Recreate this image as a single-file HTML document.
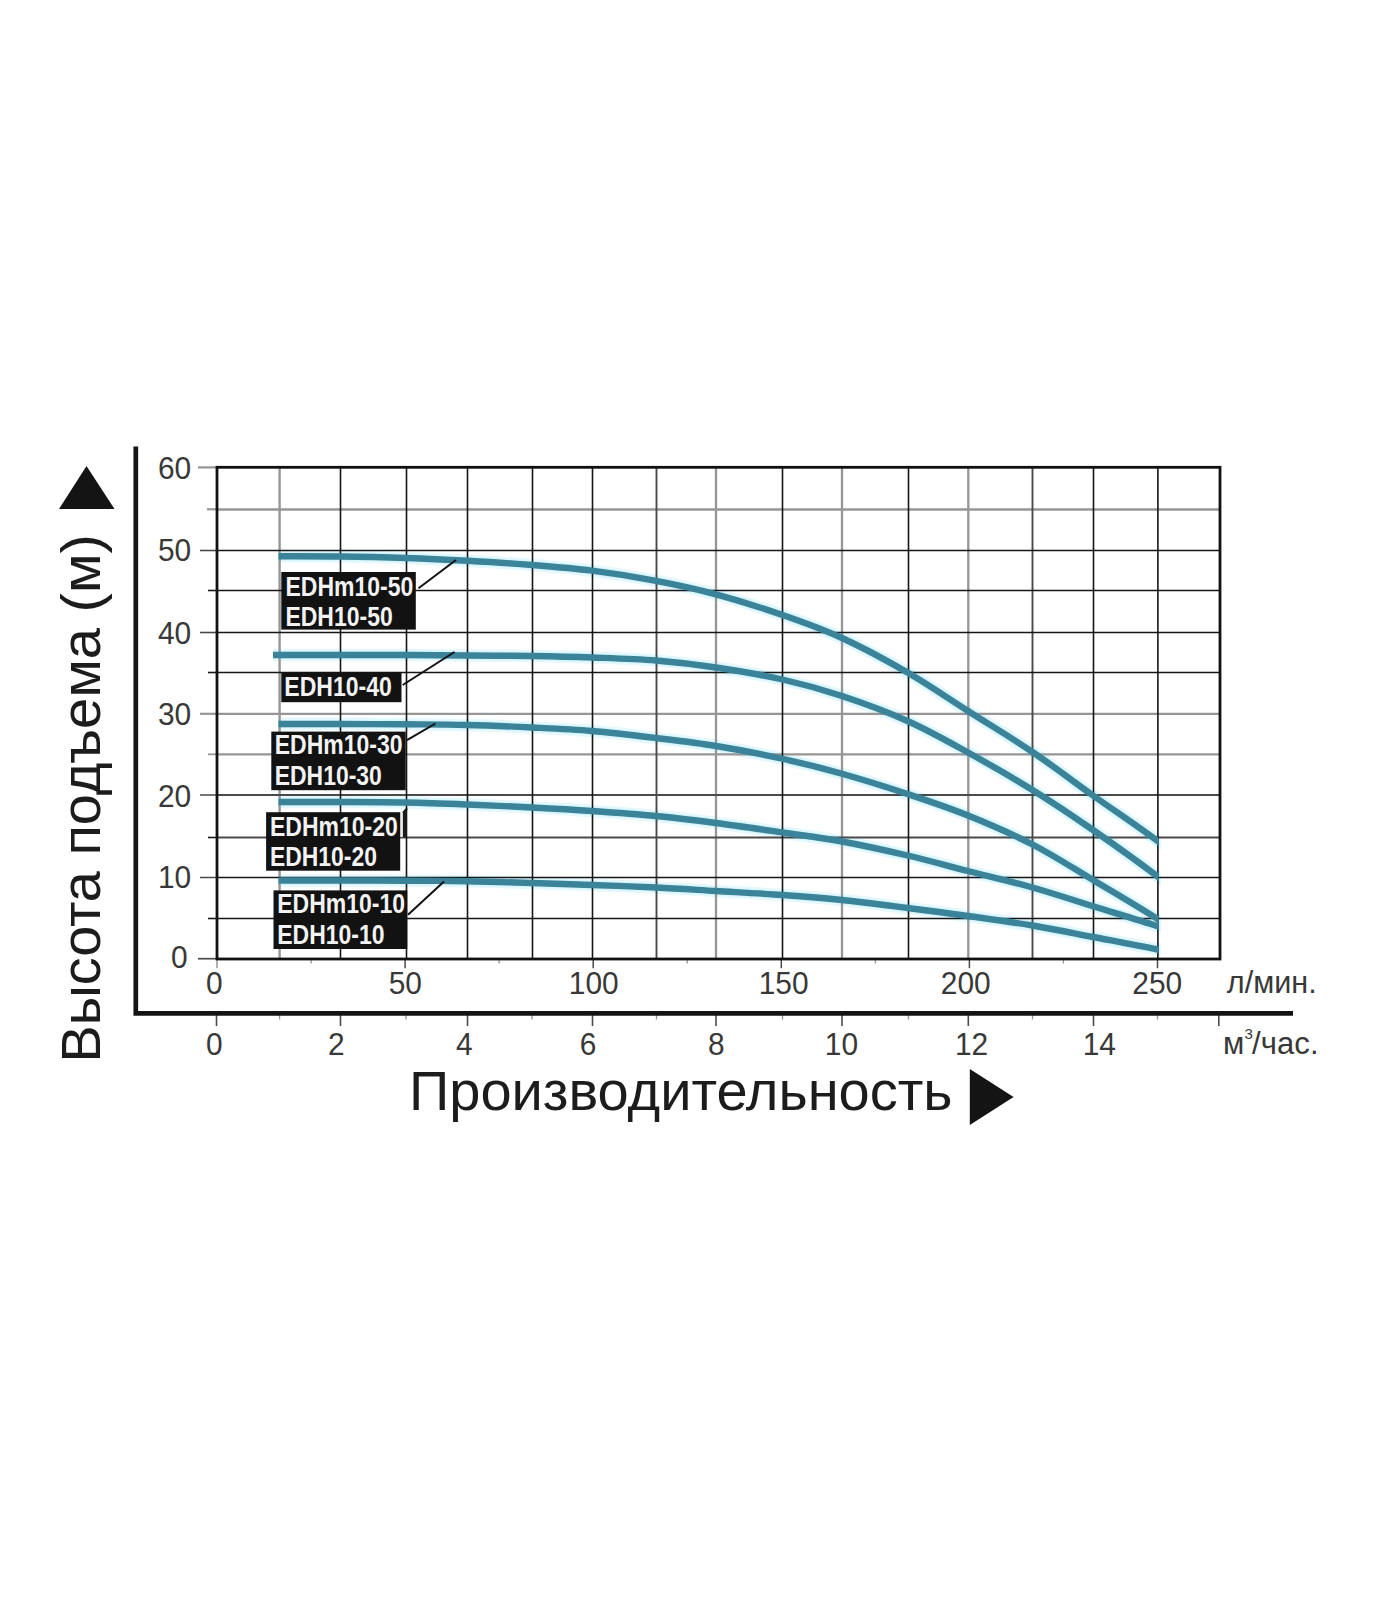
<!DOCTYPE html>
<html lang="ru">
<head>
<meta charset="utf-8">
<title>График производительности насосов EDH10</title>
<style>
html,body{margin:0;padding:0;background:#fff;}
body{width:1400px;height:1600px;overflow:hidden;position:relative;font-family:"Liberation Sans",sans-serif;}
svg{position:absolute;left:0;top:0;display:block;}
text{font-family:"Liberation Sans",sans-serif;}
.tk{font-size:32px;fill:#383838;}
.un{font-size:31px;fill:#383838;}
.big{font-size:56px;fill:#1c1c1c;}
.lb{font-size:27px;font-weight:bold;fill:#f3f3f3;}
</style>
</head>
<body>
<svg width="1400" height="1600" viewBox="0 0 1400 1600">
<rect x="0" y="0" width="1400" height="1600" fill="#ffffff"/>

<clipPath id="cc"><rect x="270" y="500" width="888.6" height="470"/></clipPath>
<clipPath id="ch"><rect x="268" y="500" width="892.5" height="457"/></clipPath>
<g id="halo" fill="none" clip-path="url(#ch)">
<path d="M278.50 556.30 C288.75 556.33 318.75 556.22 340.00 556.50 C361.25 556.78 384.75 557.28 406.00 558.00 C427.25 558.72 446.50 559.63 467.50 560.80 C488.50 561.97 511.25 563.35 532.00 565.00 C552.75 566.65 571.33 568.07 592.00 570.70 C612.67 573.33 635.33 576.87 656.00 580.80 C676.67 584.73 694.92 588.60 716.00 594.30 C737.08 600.00 761.50 607.72 782.50 615.00 C803.50 622.28 821.17 628.42 842.00 638.00 C862.83 647.58 886.50 660.33 907.50 672.50 C928.50 684.67 947.17 697.75 968.00 711.00 C988.83 724.25 1011.67 737.92 1032.50 752.00 C1053.33 766.08 1072.17 780.67 1093.00 795.50 C1113.83 810.33 1136.75 825.52 1157.50 841.00 C1178.25 856.48 1207.50 880.50 1217.50 888.40" stroke="#e4f9ff" stroke-width="12.5"/>
<path d="M278.50 556.30 C288.75 556.33 318.75 556.22 340.00 556.50 C361.25 556.78 384.75 557.28 406.00 558.00 C427.25 558.72 446.50 559.63 467.50 560.80 C488.50 561.97 511.25 563.35 532.00 565.00 C552.75 566.65 571.33 568.07 592.00 570.70 C612.67 573.33 635.33 576.87 656.00 580.80 C676.67 584.73 694.92 588.60 716.00 594.30 C737.08 600.00 761.50 607.72 782.50 615.00 C803.50 622.28 821.17 628.42 842.00 638.00 C862.83 647.58 886.50 660.33 907.50 672.50 C928.50 684.67 947.17 697.75 968.00 711.00 C988.83 724.25 1011.67 737.92 1032.50 752.00 C1053.33 766.08 1072.17 780.67 1093.00 795.50 C1113.83 810.33 1136.75 825.52 1157.50 841.00 C1178.25 856.48 1207.50 880.50 1217.50 888.40" stroke="#d9f5fc" stroke-width="9"/>
<path d="M273.00 655.00 C284.17 655.00 317.83 655.00 340.00 655.00 C362.17 655.00 384.75 654.92 406.00 655.00 C427.25 655.08 446.50 655.33 467.50 655.50 C488.50 655.67 511.17 655.67 532.00 656.00 C552.83 656.33 571.83 656.75 592.50 657.50 C613.17 658.25 635.42 658.83 656.00 660.50 C676.58 662.17 694.92 664.33 716.00 667.50 C737.08 670.67 761.50 674.75 782.50 679.50 C803.50 684.25 821.17 689.08 842.00 696.00 C862.83 702.92 886.50 711.58 907.50 721.00 C928.50 730.42 947.17 741.00 968.00 752.50 C988.83 764.00 1011.67 777.08 1032.50 790.00 C1053.33 802.92 1072.17 815.58 1093.00 830.00 C1113.83 844.42 1136.75 860.68 1157.50 876.50 C1178.25 892.32 1207.50 916.87 1217.50 924.95" stroke="#e4f9ff" stroke-width="12.5"/>
<path d="M273.00 655.00 C284.17 655.00 317.83 655.00 340.00 655.00 C362.17 655.00 384.75 654.92 406.00 655.00 C427.25 655.08 446.50 655.33 467.50 655.50 C488.50 655.67 511.17 655.67 532.00 656.00 C552.83 656.33 571.83 656.75 592.50 657.50 C613.17 658.25 635.42 658.83 656.00 660.50 C676.58 662.17 694.92 664.33 716.00 667.50 C737.08 670.67 761.50 674.75 782.50 679.50 C803.50 684.25 821.17 689.08 842.00 696.00 C862.83 702.92 886.50 711.58 907.50 721.00 C928.50 730.42 947.17 741.00 968.00 752.50 C988.83 764.00 1011.67 777.08 1032.50 790.00 C1053.33 802.92 1072.17 815.58 1093.00 830.00 C1113.83 844.42 1136.75 860.68 1157.50 876.50 C1178.25 892.32 1207.50 916.87 1217.50 924.95" stroke="#d9f5fc" stroke-width="9"/>
<path d="M278.50 724.00 C288.75 724.00 318.75 723.95 340.00 724.00 C361.25 724.05 384.83 724.13 406.00 724.30 C427.17 724.47 446.00 724.47 467.00 725.00 C488.00 725.53 511.17 726.50 532.00 727.50 C552.83 728.50 571.33 729.25 592.00 731.00 C612.67 732.75 635.33 735.50 656.00 738.00 C676.67 740.50 694.92 742.54 716.00 746.00 C737.08 749.46 761.50 754.12 782.50 758.75 C803.50 763.38 821.17 767.88 842.00 773.75 C862.83 779.62 886.50 787.04 907.50 794.00 C928.50 800.96 947.17 807.08 968.00 815.50 C988.83 823.92 1011.67 833.75 1032.50 844.50 C1053.33 855.25 1072.17 867.58 1093.00 880.00 C1113.83 892.42 1136.75 905.73 1157.50 919.00 C1178.25 932.27 1207.50 952.86 1217.50 959.63" stroke="#e4f9ff" stroke-width="12.5"/>
<path d="M278.50 724.00 C288.75 724.00 318.75 723.95 340.00 724.00 C361.25 724.05 384.83 724.13 406.00 724.30 C427.17 724.47 446.00 724.47 467.00 725.00 C488.00 725.53 511.17 726.50 532.00 727.50 C552.83 728.50 571.33 729.25 592.00 731.00 C612.67 732.75 635.33 735.50 656.00 738.00 C676.67 740.50 694.92 742.54 716.00 746.00 C737.08 749.46 761.50 754.12 782.50 758.75 C803.50 763.38 821.17 767.88 842.00 773.75 C862.83 779.62 886.50 787.04 907.50 794.00 C928.50 800.96 947.17 807.08 968.00 815.50 C988.83 823.92 1011.67 833.75 1032.50 844.50 C1053.33 855.25 1072.17 867.58 1093.00 880.00 C1113.83 892.42 1136.75 905.73 1157.50 919.00 C1178.25 932.27 1207.50 952.86 1217.50 959.63" stroke="#d9f5fc" stroke-width="9"/>
<path d="M278.50 802.00 C288.75 802.00 318.75 801.92 340.00 802.00 C361.25 802.08 384.83 802.08 406.00 802.50 C427.17 802.92 446.00 803.67 467.00 804.50 C488.00 805.33 511.17 806.42 532.00 807.50 C552.83 808.58 571.33 809.58 592.00 811.00 C612.67 812.42 635.33 814.00 656.00 816.00 C676.67 818.00 694.92 820.25 716.00 823.00 C737.08 825.75 761.50 829.42 782.50 832.50 C803.50 835.58 821.17 837.67 842.00 841.50 C862.83 845.33 886.50 850.58 907.50 855.50 C928.50 860.42 947.17 865.67 968.00 871.00 C988.83 876.33 1011.67 881.62 1032.50 887.50 C1053.33 893.38 1072.17 899.85 1093.00 906.30 C1113.83 912.75 1136.75 919.43 1157.50 926.20 C1178.25 932.97 1207.50 943.48 1217.50 946.93" stroke="#e4f9ff" stroke-width="12.5"/>
<path d="M278.50 802.00 C288.75 802.00 318.75 801.92 340.00 802.00 C361.25 802.08 384.83 802.08 406.00 802.50 C427.17 802.92 446.00 803.67 467.00 804.50 C488.00 805.33 511.17 806.42 532.00 807.50 C552.83 808.58 571.33 809.58 592.00 811.00 C612.67 812.42 635.33 814.00 656.00 816.00 C676.67 818.00 694.92 820.25 716.00 823.00 C737.08 825.75 761.50 829.42 782.50 832.50 C803.50 835.58 821.17 837.67 842.00 841.50 C862.83 845.33 886.50 850.58 907.50 855.50 C928.50 860.42 947.17 865.67 968.00 871.00 C988.83 876.33 1011.67 881.62 1032.50 887.50 C1053.33 893.38 1072.17 899.85 1093.00 906.30 C1113.83 912.75 1136.75 919.43 1157.50 926.20 C1178.25 932.97 1207.50 943.48 1217.50 946.93" stroke="#d9f5fc" stroke-width="9"/>
<path d="M278.50 880.50 C288.75 880.50 318.75 880.47 340.00 880.50 C361.25 880.53 384.83 880.57 406.00 880.70 C427.17 880.83 446.00 880.92 467.00 881.30 C488.00 881.68 511.17 882.38 532.00 883.00 C552.83 883.62 571.33 884.25 592.00 885.00 C612.67 885.75 635.33 886.50 656.00 887.50 C676.67 888.50 694.92 889.75 716.00 891.00 C737.08 892.25 761.50 893.50 782.50 895.00 C803.50 896.50 821.17 897.83 842.00 900.00 C862.83 902.17 886.50 905.33 907.50 908.00 C928.50 910.67 947.17 913.08 968.00 916.00 C988.83 918.92 1011.67 922.00 1032.50 925.50 C1053.33 929.00 1072.17 933.00 1093.00 937.00 C1113.83 941.00 1136.75 945.25 1157.50 949.50 C1178.25 953.75 1207.50 960.35 1217.50 962.52" stroke="#e4f9ff" stroke-width="12.5"/>
<path d="M278.50 880.50 C288.75 880.50 318.75 880.47 340.00 880.50 C361.25 880.53 384.83 880.57 406.00 880.70 C427.17 880.83 446.00 880.92 467.00 881.30 C488.00 881.68 511.17 882.38 532.00 883.00 C552.83 883.62 571.33 884.25 592.00 885.00 C612.67 885.75 635.33 886.50 656.00 887.50 C676.67 888.50 694.92 889.75 716.00 891.00 C737.08 892.25 761.50 893.50 782.50 895.00 C803.50 896.50 821.17 897.83 842.00 900.00 C862.83 902.17 886.50 905.33 907.50 908.00 C928.50 910.67 947.17 913.08 968.00 916.00 C988.83 918.92 1011.67 922.00 1032.50 925.50 C1053.33 929.00 1072.17 933.00 1093.00 937.00 C1113.83 941.00 1136.75 945.25 1157.50 949.50 C1178.25 953.75 1207.50 960.35 1217.50 962.52" stroke="#d9f5fc" stroke-width="9"/>
</g>
<g id="grid" fill="none">
<line x1="279.6" y1="467.3" x2="279.6" y2="959" stroke="#969696" stroke-width="2.4"/>
<line x1="716" y1="467.3" x2="716" y2="959" stroke="#969696" stroke-width="2.3"/>
<line x1="842" y1="467.3" x2="842" y2="959" stroke="#969696" stroke-width="2.3"/>
<line x1="968.3" y1="467.3" x2="968.3" y2="959" stroke="#969696" stroke-width="2.3"/>
<line x1="217" y1="509.4" x2="1220" y2="509.4" stroke="#969696" stroke-width="2.5"/>
<line x1="217" y1="713.8" x2="1220" y2="713.8" stroke="#969696" stroke-width="2.3"/>
<line x1="217" y1="754.3" x2="1220" y2="754.3" stroke="#969696" stroke-width="2.2"/>
<line x1="656.5" y1="467.3" x2="656.5" y2="959" stroke="#4a4a4a" stroke-width="1.9"/>
<line x1="1032.5" y1="467.3" x2="1032.5" y2="959" stroke="#4a4a4a" stroke-width="1.9"/>
<line x1="217" y1="795" x2="1220" y2="795" stroke="#4a4a4a" stroke-width="1.8"/>
<line x1="217" y1="837.5" x2="1220" y2="837.5" stroke="#4a4a4a" stroke-width="1.8"/>
<line x1="340.5" y1="467.3" x2="340.5" y2="959" stroke="#161616" stroke-width="1.6"/>
<line x1="406.5" y1="467.3" x2="406.5" y2="959" stroke="#161616" stroke-width="1.6"/>
<line x1="467.5" y1="467.3" x2="467.5" y2="959" stroke="#161616" stroke-width="1.6"/>
<line x1="532.5" y1="467.3" x2="532.5" y2="959" stroke="#161616" stroke-width="1.6"/>
<line x1="592.5" y1="467.3" x2="592.5" y2="959" stroke="#161616" stroke-width="1.6"/>
<line x1="782.5" y1="467.3" x2="782.5" y2="959" stroke="#161616" stroke-width="1.6"/>
<line x1="908.5" y1="467.3" x2="908.5" y2="959" stroke="#161616" stroke-width="1.6"/>
<line x1="1093.5" y1="467.3" x2="1093.5" y2="959" stroke="#161616" stroke-width="1.6"/>
<line x1="1157.9" y1="467.3" x2="1157.9" y2="959" stroke="#161616" stroke-width="1.6"/>
<line x1="217" y1="550.5" x2="1220" y2="550.5" stroke="#161616" stroke-width="1.6"/>
<line x1="217" y1="590.5" x2="1220" y2="590.5" stroke="#161616" stroke-width="1.6"/>
<line x1="217" y1="632.5" x2="1220" y2="632.5" stroke="#161616" stroke-width="1.6"/>
<line x1="217" y1="672.5" x2="1220" y2="672.5" stroke="#161616" stroke-width="1.6"/>
<line x1="217" y1="877.5" x2="1220" y2="877.5" stroke="#161616" stroke-width="1.6"/>
<line x1="217" y1="918.5" x2="1220" y2="918.5" stroke="#161616" stroke-width="1.6"/>
</g>
<g id="yticks" fill="none">
<line x1="198" y1="467.4" x2="217" y2="467.4" stroke="#969696" stroke-width="2.2"/>
<line x1="207" y1="509.3" x2="217" y2="509.3" stroke="#969696" stroke-width="2.2"/>
<line x1="200" y1="550.5" x2="217" y2="550.5" stroke="#4a4a4a" stroke-width="1.6"/>
<line x1="208" y1="590.5" x2="217" y2="590.5" stroke="#161616" stroke-width="1.6"/>
<line x1="200" y1="632.5" x2="217" y2="632.5" stroke="#4a4a4a" stroke-width="1.6"/>
<line x1="208" y1="672.5" x2="217" y2="672.5" stroke="#161616" stroke-width="1.6"/>
<line x1="200" y1="713.8" x2="217" y2="713.8" stroke="#969696" stroke-width="2.2"/>
<line x1="208" y1="754.3" x2="217" y2="754.3" stroke="#969696" stroke-width="1.8"/>
<line x1="200" y1="795" x2="217" y2="795" stroke="#4a4a4a" stroke-width="1.5"/>
<line x1="208" y1="837.5" x2="217" y2="837.5" stroke="#161616" stroke-width="1.6"/>
<line x1="200" y1="877.5" x2="217" y2="877.5" stroke="#4a4a4a" stroke-width="1.5"/>
<line x1="208" y1="918.5" x2="217" y2="918.5" stroke="#161616" stroke-width="1.6"/>
<line x1="198" y1="958.7" x2="217" y2="958.7" stroke="#4a4a4a" stroke-width="1.7"/>
</g>
<g id="xticks1" fill="none">
<line x1="217.0" y1="959" x2="217.0" y2="968.2" stroke="#969696" stroke-width="1.5"/>
<line x1="311.1" y1="959" x2="311.1" y2="963.5" stroke="#969696" stroke-width="1.3"/>
<line x1="405.1" y1="959" x2="405.1" y2="968.2" stroke="#4a4a4a" stroke-width="1.5"/>
<line x1="499.1" y1="959" x2="499.1" y2="963.5" stroke="#969696" stroke-width="1.3"/>
<line x1="593.2" y1="959" x2="593.2" y2="968.2" stroke="#4a4a4a" stroke-width="1.5"/>
<line x1="687.2" y1="959" x2="687.2" y2="963.5" stroke="#969696" stroke-width="1.3"/>
<line x1="781.3" y1="959" x2="781.3" y2="968.2" stroke="#4a4a4a" stroke-width="1.5"/>
<line x1="875.4" y1="959" x2="875.4" y2="963.5" stroke="#969696" stroke-width="1.3"/>
<line x1="969.4" y1="959" x2="969.4" y2="968.2" stroke="#4a4a4a" stroke-width="1.5"/>
<line x1="1063.4" y1="959" x2="1063.4" y2="963.5" stroke="#969696" stroke-width="1.3"/>
<line x1="1157.5" y1="959" x2="1157.5" y2="968.2" stroke="#4a4a4a" stroke-width="1.5"/>
</g>
<g id="xticks2" fill="none">
<line x1="216.5" y1="1014" x2="216.5" y2="1026" stroke="#4a4a4a" stroke-width="1.6"/>
<line x1="279.6" y1="1014" x2="279.6" y2="1019.5" stroke="#969696" stroke-width="1.3"/>
<line x1="340.5" y1="1014" x2="340.5" y2="1026" stroke="#4a4a4a" stroke-width="1.6"/>
<line x1="406.0" y1="1014" x2="406.0" y2="1019.5" stroke="#969696" stroke-width="1.3"/>
<line x1="467.5" y1="1014" x2="467.5" y2="1026" stroke="#4a4a4a" stroke-width="1.6"/>
<line x1="532.0" y1="1014" x2="532.0" y2="1019.5" stroke="#969696" stroke-width="1.3"/>
<line x1="592.5" y1="1014" x2="592.5" y2="1026" stroke="#4a4a4a" stroke-width="1.6"/>
<line x1="656.5" y1="1014" x2="656.5" y2="1019.5" stroke="#969696" stroke-width="1.3"/>
<line x1="716.0" y1="1014" x2="716.0" y2="1026" stroke="#4a4a4a" stroke-width="1.6"/>
<line x1="782.5" y1="1014" x2="782.5" y2="1019.5" stroke="#969696" stroke-width="1.3"/>
<line x1="842.0" y1="1014" x2="842.0" y2="1026" stroke="#4a4a4a" stroke-width="1.6"/>
<line x1="908.5" y1="1014" x2="908.5" y2="1019.5" stroke="#969696" stroke-width="1.3"/>
<line x1="968.3" y1="1014" x2="968.3" y2="1026" stroke="#4a4a4a" stroke-width="1.6"/>
<line x1="1032.5" y1="1014" x2="1032.5" y2="1019.5" stroke="#969696" stroke-width="1.3"/>
<line x1="1093.5" y1="1014" x2="1093.5" y2="1026" stroke="#4a4a4a" stroke-width="1.6"/>
<line x1="1157.5" y1="1014" x2="1157.5" y2="1019.5" stroke="#969696" stroke-width="1.3"/>
<line x1="1218.8" y1="1014" x2="1218.8" y2="1026" stroke="#4a4a4a" stroke-width="1.6"/>
</g>
<g id="curves" fill="none" stroke-linecap="butt" stroke-linejoin="round" clip-path="url(#cc)">
<path d="M278.50 556.30 C288.75 556.33 318.75 556.22 340.00 556.50 C361.25 556.78 384.75 557.28 406.00 558.00 C427.25 558.72 446.50 559.63 467.50 560.80 C488.50 561.97 511.25 563.35 532.00 565.00 C552.75 566.65 571.33 568.07 592.00 570.70 C612.67 573.33 635.33 576.87 656.00 580.80 C676.67 584.73 694.92 588.60 716.00 594.30 C737.08 600.00 761.50 607.72 782.50 615.00 C803.50 622.28 821.17 628.42 842.00 638.00 C862.83 647.58 886.50 660.33 907.50 672.50 C928.50 684.67 947.17 697.75 968.00 711.00 C988.83 724.25 1011.67 737.92 1032.50 752.00 C1053.33 766.08 1072.17 780.67 1093.00 795.50 C1113.83 810.33 1136.75 825.52 1157.50 841.00 C1178.25 856.48 1207.50 880.50 1217.50 888.40" stroke="#3b8399" stroke-width="6.4"/>
<path d="M273.00 655.00 C284.17 655.00 317.83 655.00 340.00 655.00 C362.17 655.00 384.75 654.92 406.00 655.00 C427.25 655.08 446.50 655.33 467.50 655.50 C488.50 655.67 511.17 655.67 532.00 656.00 C552.83 656.33 571.83 656.75 592.50 657.50 C613.17 658.25 635.42 658.83 656.00 660.50 C676.58 662.17 694.92 664.33 716.00 667.50 C737.08 670.67 761.50 674.75 782.50 679.50 C803.50 684.25 821.17 689.08 842.00 696.00 C862.83 702.92 886.50 711.58 907.50 721.00 C928.50 730.42 947.17 741.00 968.00 752.50 C988.83 764.00 1011.67 777.08 1032.50 790.00 C1053.33 802.92 1072.17 815.58 1093.00 830.00 C1113.83 844.42 1136.75 860.68 1157.50 876.50 C1178.25 892.32 1207.50 916.87 1217.50 924.95" stroke="#3b8399" stroke-width="6.4"/>
<path d="M278.50 724.00 C288.75 724.00 318.75 723.95 340.00 724.00 C361.25 724.05 384.83 724.13 406.00 724.30 C427.17 724.47 446.00 724.47 467.00 725.00 C488.00 725.53 511.17 726.50 532.00 727.50 C552.83 728.50 571.33 729.25 592.00 731.00 C612.67 732.75 635.33 735.50 656.00 738.00 C676.67 740.50 694.92 742.54 716.00 746.00 C737.08 749.46 761.50 754.12 782.50 758.75 C803.50 763.38 821.17 767.88 842.00 773.75 C862.83 779.62 886.50 787.04 907.50 794.00 C928.50 800.96 947.17 807.08 968.00 815.50 C988.83 823.92 1011.67 833.75 1032.50 844.50 C1053.33 855.25 1072.17 867.58 1093.00 880.00 C1113.83 892.42 1136.75 905.73 1157.50 919.00 C1178.25 932.27 1207.50 952.86 1217.50 959.63" stroke="#3b8399" stroke-width="6.4"/>
<path d="M278.50 802.00 C288.75 802.00 318.75 801.92 340.00 802.00 C361.25 802.08 384.83 802.08 406.00 802.50 C427.17 802.92 446.00 803.67 467.00 804.50 C488.00 805.33 511.17 806.42 532.00 807.50 C552.83 808.58 571.33 809.58 592.00 811.00 C612.67 812.42 635.33 814.00 656.00 816.00 C676.67 818.00 694.92 820.25 716.00 823.00 C737.08 825.75 761.50 829.42 782.50 832.50 C803.50 835.58 821.17 837.67 842.00 841.50 C862.83 845.33 886.50 850.58 907.50 855.50 C928.50 860.42 947.17 865.67 968.00 871.00 C988.83 876.33 1011.67 881.62 1032.50 887.50 C1053.33 893.38 1072.17 899.85 1093.00 906.30 C1113.83 912.75 1136.75 919.43 1157.50 926.20 C1178.25 932.97 1207.50 943.48 1217.50 946.93" stroke="#3b8399" stroke-width="6.4"/>
<path d="M278.50 880.50 C288.75 880.50 318.75 880.47 340.00 880.50 C361.25 880.53 384.83 880.57 406.00 880.70 C427.17 880.83 446.00 880.92 467.00 881.30 C488.00 881.68 511.17 882.38 532.00 883.00 C552.83 883.62 571.33 884.25 592.00 885.00 C612.67 885.75 635.33 886.50 656.00 887.50 C676.67 888.50 694.92 889.75 716.00 891.00 C737.08 892.25 761.50 893.50 782.50 895.00 C803.50 896.50 821.17 897.83 842.00 900.00 C862.83 902.17 886.50 905.33 907.50 908.00 C928.50 910.67 947.17 913.08 968.00 916.00 C988.83 918.92 1011.67 922.00 1032.50 925.50 C1053.33 929.00 1072.17 933.00 1093.00 937.00 C1113.83 941.00 1136.75 945.25 1157.50 949.50 C1178.25 953.75 1207.50 960.35 1217.50 962.52" stroke="#3b8399" stroke-width="6.4"/>
</g>
<rect x="217" y="467.3" width="1003" height="491.7" fill="none" stroke="#111" stroke-width="2.8"/>
<path d="M135.8 446.5 V1013.4 H1293" fill="none" stroke="#141414" stroke-width="4.7" stroke-linejoin="miter"/>
<g id="leaders" stroke="#111" stroke-width="2" fill="none">
<line x1="418.5" y1="588.3" x2="456" y2="560"/>
<line x1="402.7" y1="685" x2="454.5" y2="652"/>
<line x1="407" y1="740.2" x2="435.5" y2="723.5"/>
<line x1="403" y1="813" x2="407" y2="808.5"/>
<line x1="408" y1="914.8" x2="444" y2="881.5"/>
</g>
<g id="labels">
<rect x="400.2" y="812.6" width="2.7" height="24.4" fill="#ececec"/>
<rect x="402.9" y="811" width="3.9" height="26.3" fill="#1a1a1a"/>
<rect x="281.3" y="572" width="134.5" height="57.60000000000002" fill="#121212"/>
<text class="lb" x="285.4" y="596" textLength="128" lengthAdjust="spacingAndGlyphs">EDHm10-50</text>
<text class="lb" x="285.4" y="626" textLength="107.3" lengthAdjust="spacingAndGlyphs">EDH10-50</text>
<rect x="281.3" y="672.6" width="120.19999999999999" height="29.600000000000023" fill="#121212"/>
<text class="lb" x="284.3" y="696.2" textLength="107.6" lengthAdjust="spacingAndGlyphs">EDH10-40</text>
<rect x="271.3" y="731.6" width="134.39999999999998" height="58.60000000000002" fill="#121212"/>
<text class="lb" x="274.7" y="754.4" textLength="127.9" lengthAdjust="spacingAndGlyphs">EDHm10-30</text>
<text class="lb" x="274.7" y="785.2" textLength="107.2" lengthAdjust="spacingAndGlyphs">EDH10-30</text>
<rect x="266.1" y="812.2" width="134.09999999999997" height="58.5" fill="#121212"/>
<text class="lb" x="269.9" y="835.8" textLength="128" lengthAdjust="spacingAndGlyphs">EDHm10-20</text>
<text class="lb" x="269.9" y="866" textLength="107" lengthAdjust="spacingAndGlyphs">EDH10-20</text>
<rect x="273.5" y="890.4" width="133.8" height="58.60000000000002" fill="#121212"/>
<text class="lb" x="277.2" y="913.2" textLength="127.9" lengthAdjust="spacingAndGlyphs">EDHm10-10</text>
<text class="lb" x="277.2" y="944" textLength="107.4" lengthAdjust="spacingAndGlyphs">EDH10-10</text>
</g>
<g id="ylabels" text-anchor="end">
<text class="tk" transform="translate(191.2,478.6) scale(0.935,1)">60</text>
<text class="tk" transform="translate(191.2,561.3) scale(0.935,1)">50</text>
<text class="tk" transform="translate(191.2,643.7) scale(0.935,1)">40</text>
<text class="tk" transform="translate(191.2,725.1) scale(0.935,1)">30</text>
<text class="tk" transform="translate(191.2,806.8) scale(0.935,1)">20</text>
<text class="tk" transform="translate(191.2,888.3) scale(0.935,1)">10</text>
<text class="tk" transform="translate(187.6,968.1) scale(0.935,1)">0</text>
</g>
<g id="xlabels1" text-anchor="middle">
<text class="tk" transform="translate(214.2,994.1) scale(0.935,1)">0</text>
<text class="tk" transform="translate(405.3,994.1) scale(0.935,1)">50</text>
<text class="tk" transform="translate(593.8,994.1) scale(0.935,1)">100</text>
<text class="tk" transform="translate(783.6,994.1) scale(0.935,1)">150</text>
<text class="tk" transform="translate(965.8,994.1) scale(0.935,1)">200</text>
<text class="tk" transform="translate(1157.3,994.1) scale(0.935,1)">250</text>
</g>
<text class="un" x="1226.8" y="993.3" style="font-size:30.6px">л/мин.</text>
<g id="xlabels2" text-anchor="middle">
<text class="tk" transform="translate(214.2,1054.5) scale(0.935,1)">0</text>
<text class="tk" transform="translate(336.3,1054.5) scale(0.935,1)">2</text>
<text class="tk" transform="translate(464.3,1054.5) scale(0.935,1)">4</text>
<text class="tk" transform="translate(588,1054.5) scale(0.935,1)">6</text>
<text class="tk" transform="translate(716.4,1054.5) scale(0.935,1)">8</text>
<text class="tk" transform="translate(841.5,1054.5) scale(0.935,1)">10</text>
<text class="tk" transform="translate(971.6,1054.5) scale(0.935,1)">12</text>
<text class="tk" transform="translate(1099.3,1054.5) scale(0.935,1)">14</text>
</g>
<text class="un" x="1223" y="1054.2" letter-spacing="0.1">м<tspan font-size="15" dx="0.2" dy="-15.2">3</tspan><tspan dx="-1" dy="15.2">/час.</tspan></text>
<text class="big" x="409" y="1110.3">Производительность</text>
<polygon points="969.8,1069 1013.6,1097 969.8,1125" fill="#141414"/>
<text class="big" transform="translate(99.8,1062) rotate(-90)"><tspan x="-0.5" y="0" textLength="191.3" lengthAdjust="spacingAndGlyphs">Высота</tspan> <tspan x="206.4" y="0" textLength="227.5" lengthAdjust="spacingAndGlyphs">подъема</tspan> <tspan x="449.4" y="0" textLength="78.5" lengthAdjust="spacingAndGlyphs">(м)</tspan></text>
<polygon points="86.5,466 114.5,509 59,509" fill="#141414"/>
</svg>
</body>
</html>
